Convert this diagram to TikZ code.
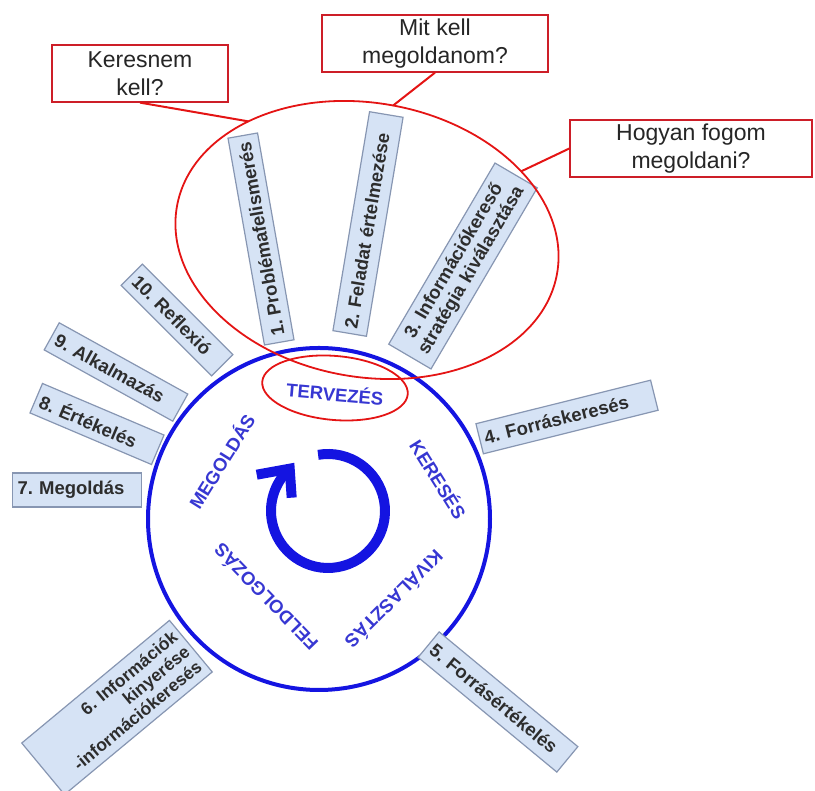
\documentclass[tikz,border=0pt]{standalone}
\usepackage{fontspec}
\setmainfont{Liberation Sans}
\usetikzlibrary{shapes.geometric}
\definecolor{cycleblue}{RGB}{20,20,225}
\definecolor{phaseblue}{RGB}{55,55,210}
\definecolor{stepfill}{RGB}{214,227,245}
\definecolor{stepedge}{RGB}{135,150,178}
\definecolor{steptext}{RGB}{45,45,45}
\definecolor{notered}{RGB}{205,30,40}
\definecolor{linkred}{RGB}{228,20,20}

\begin{document}
\frenchspacing
\begin{tikzpicture}[x=1pt, y=1pt,
    stepbox/.style={draw=stepedge, line width=1.2pt, fill=stepfill, text=steptext,
      font=\fontsize{18.5}{19}\selectfont\bfseries, inner xsep=5pt, inner ysep=0pt},
    phase/.style={text=phaseblue, font=\fontsize{18.5}{18}\selectfont\bfseries},
    question/.style={draw=notered, line width=1.3pt, fill=white, text=black!85,
      font=\fontsize{23}{28}\selectfont, align=center, inner ysep=1pt, minimum height=57pt},
    oval/.style={ellipse, draw=linkred, line width=1.8pt, inner sep=0pt, outer sep=0pt},
    link/.style={draw=linkred, line width=2pt}]

    \useasboundingbox (0,0) rectangle (815,791);

    % the cycle and its turning arrow
    \node[circle, draw=cycleblue, line width=4pt, minimum size=342pt] (cycle) at (319,272) {};
    \draw[cycleblue, line width=10pt] (328,280) ++(100:57) arc[start angle=100, end angle=-225, radius=57] coordinate (turn);
    \draw[cycleblue, line width=10pt, line join=miter] (turn) ++(-31,-4) -- ++(33,6) -- ++(2,-29);

    % phases round the cycle
    \node[phase, rotate=-5] (plan) at (335,398) {TERVEZÉS};
    \node[phase, rotate=-58] (search) at (439,312) {KERESÉS};
    \node[phase, rotate=-135] (select) at (395,191) {KIVÁLASZTÁS};
    \node[phase, rotate=134] (process) at (265,193) {FELDOLGOZÁS};
    \node[phase, rotate=58] (solve) at (221,330) {MEGOLDÁS};

    % the ten steps
    \node[stepbox, rotate=100, minimum width=210pt, minimum height=30pt] (s1) at (261,552) {1. Problémafelismerés};
    \node[stepbox, rotate=80.5, text width=212pt, align=left, minimum height=34pt] (s2) at (368,567) {2. Feladat értelmezése};
    \node[stepbox, rotate=59.6, text width=200pt, align=center, minimum height=49pt,
      font=\fontsize{18.5}{20}\selectfont\bfseries] (s3) at (463,525) {3. Információkereső\\stratégia kiválasztása};
    \node[stepbox, rotate=14, text width=170pt, align=left, minimum height=31pt] (s4) at (567,374) {4. Forráskeresés};
    \node[stepbox, rotate=-39.6, text width=170pt, align=left, minimum height=33pt] (s5) at (498,89) {5. Forrásértékelés};
    \node[stepbox, rotate=39.7, text width=182pt, align=right, minimum height=67pt,
      font=\fontsize{17.5}{19}\selectfont\bfseries] (s6) at (117,83.5) {6. Információk\\kinyerése\\-információkeresés};
    \node[stepbox, text width=119pt, align=left, minimum height=34pt] (s7) at (77,301) {7. Megoldás};
    \node[stepbox, rotate=-23, text width=122pt, align=left, minimum height=32pt] (s8) at (97,367) {8. Értékelés};
    \node[stepbox, rotate=-29, text width=137pt, align=left, minimum height=31pt] (s9) at (116,419) {9. Alkalmazás};
    \node[stepbox, rotate=-45, text width=118pt, align=left, minimum height=30pt] (s10) at (177,471) {10. Reflexió};

    % planning highlighted
    \node[oval, minimum width=146pt, minimum height=64pt, rotate=-5] (planoval) at (335,403) {};
    \node[oval, minimum width=386pt, minimum height=274pt, rotate=-10] (planarea) at (367,551) {};

    % questions
    \node[question, minimum width=176pt] (q1) at (140,717.5) {Keresnem\\kell?};
    \node[question, minimum width=226pt] (q2) at (435,747.5) {Mit kell\\megoldanom?};
    \node[question, minimum width=242pt] (q3) at (691,642.5) {Hogyan fogom\\megoldani?};

    \draw[link] (q1.south) -- (planarea.145);
    \draw[link] (q2.south) -- (planarea.89);
    \draw[link] (q3.west) -- (planarea.34);
\end{tikzpicture}
\end{document}
